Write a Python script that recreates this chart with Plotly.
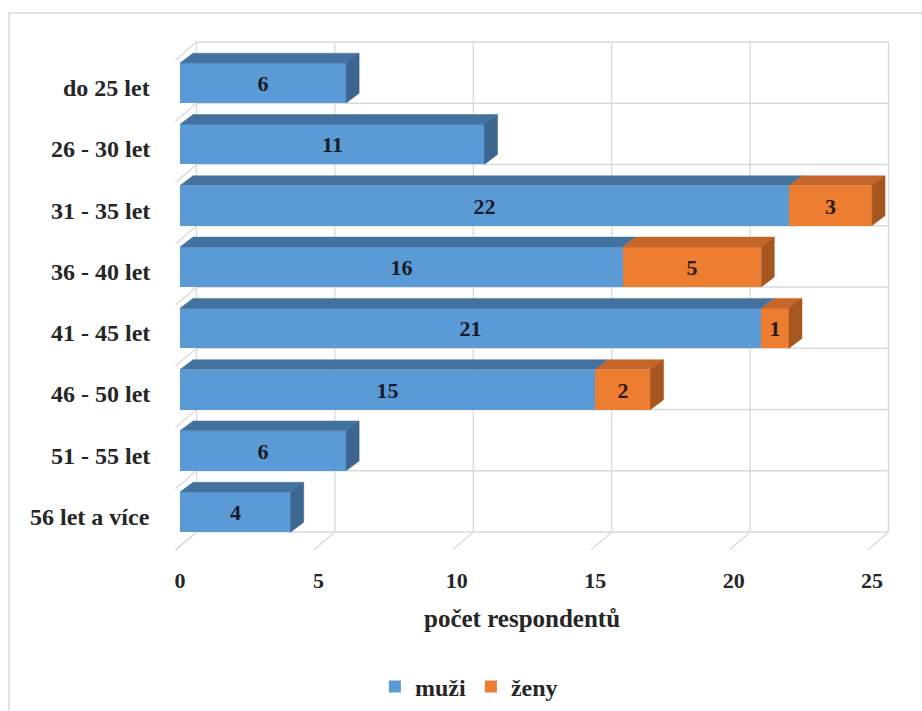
import plotly.graph_objects as go

# Age groups of respondents and counts per gender
categories = ["do 25 let", "26 - 30 let", "31 - 35 let", "36 - 40 let",
              "41 - 45 let", "46 - 50 let", "51 - 55 let", "56 let a více"]
muzi = [6, 11, 22, 16, 21, 15, 6, 4]
zeny = [0, 0, 3, 5, 1, 2, 0, 0]
x_ticks = [0, 5, 10, 15, 20, 25]

series_names = ["muži", "ženy"]
x_title = "počet respondentů"

# Colours: front face, top face, side face
BLUE = ("#5b9bd5", "#43729f", "#3a6690")
ORANGE = ("#ed7d31", "#c7662a", "#a8561f")

FONT = "Times New Roman"
TEXT = "#262626"

# Pseudo-3D geometry in axis units
BAR_W = 0.6525          # bar thickness (category units)
DX, DY = 0.47, 0.16     # bar depth offset (right, up)
BX = 0.596              # back wall shift to the right
YT, YB = -0.669, 7.325  # back wall top / bottom
FX, FY = 0.759, 0.294   # wall depth (left, down)
GRID = "#d9d9d9"

idx = list(range(len(categories)))
half = BAR_W / 2

fig = go.Figure()

# Front faces of the stacked bars
fig.add_trace(go.Bar(
    y=idx, x=muzi, orientation="h", width=BAR_W, name=series_names[0],
    marker=dict(color=BLUE[0], line=dict(width=0)),
    text=[str(v) if v else "" for v in muzi], textposition="inside",
    insidetextanchor="middle", textangle=0,
    textfont=dict(family=FONT, size=22, color="#1a1a2a", weight="bold"),
    hoverinfo="skip"))
fig.add_trace(go.Bar(
    y=idx, x=[v if v else None for v in zeny], orientation="h", width=BAR_W,
    name=series_names[1], base=muzi,
    marker=dict(color=ORANGE[0], line=dict(width=0)),
    text=[str(v) if v else "" for v in zeny], textposition="inside",
    insidetextanchor="middle", textangle=0,
    textfont=dict(family=FONT, size=22, color="#2a1a10", weight="bold"),
    hoverinfo="skip"))


def faces(starts, ends, show_side):
    """Top and side parallelograms for bar segments."""
    tx, ty, sx, sy = [], [], [], []
    for k, (a, b, side) in enumerate(zip(starts, ends, show_side)):
        if b <= a:
            continue
        top = k - half
        bot = k + half
        tx += [a, b, b + DX, a + DX, a, None]
        ty += [top, top, top - DY, top - DY, top, None]
        if side:
            sx += [b, b + DX, b + DX, b, b, None]
            sy += [top, top - DY, bot - DY, bot, top, None]
    return tx, ty, sx, sy


blue_end = muzi
orange_end = [m + z for m, z in zip(muzi, zeny)]

for starts, ends, sides, col in [
    ([0] * len(muzi), blue_end, [z == 0 for z in zeny], BLUE),
    (muzi, orange_end, [z > 0 for z in zeny], ORANGE),
]:
    tx, ty, sx, sy = faces(starts, ends, sides)
    fig.add_trace(go.Scatter(x=tx, y=ty, mode="lines", fill="toself",
                             fillcolor=col[1], line=dict(width=0.5, color=col[1]),
                             hoverinfo="skip", showlegend=False))
    if sx:
        fig.add_trace(go.Scatter(x=sx, y=sy, mode="lines", fill="toself",
                                 fillcolor=col[2], line=dict(width=0.5, color=col[2]),
                                 hoverinfo="skip", showlegend=False))

# Walls: back-wall grid, floor and left-wall edges
shapes = []
line = dict(color=GRID, width=1.3)
for v in x_ticks:
    shapes.append(dict(type="line", xref="x", yref="y", layer="below",
                       x0=v + BX, x1=v + BX, y0=YT, y1=YB, line=line))
    shapes.append(dict(type="line", xref="x", yref="y", layer="below",
                       x0=v + BX, x1=v + BX - FX, y0=YB, y1=YB + FY, line=line))
n = len(categories)
for j in range(n + 1):
    yj = YT + j * (YB - YT) / n
    shapes.append(dict(type="line", xref="x", yref="y", layer="below",
                       x0=BX, x1=x_ticks[-1] + BX, y0=yj, y1=yj, line=line))
    shapes.append(dict(type="line", xref="x", yref="y", layer="below",
                       x0=BX, x1=BX - FX, y0=yj, y1=yj + FY, line=line))

# Chart border
shapes.append(dict(type="rect", xref="paper", yref="paper", layer="below",
                   x0=-0.2008, x1=1.05, y0=-0.30, y1=1.0318,
                   line=dict(color="#d9d9d9", width=1.5)))

# Category labels (paper x, data y)
annotations = []
for k, c in enumerate(categories):
    annotations.append(dict(x=-0.0081, y=k + 0.08, xref="paper", yref="y", text=c,
                            showarrow=False, xanchor="right", yanchor="middle",
                            font=dict(family=FONT, size=24, color=TEXT,
                                      weight="bold")))
annotations.append(dict(x=0.4906, y=-0.1, xref="paper", yref="paper",
                        text=x_title, showarrow=False, xanchor="center",
                        yanchor="middle",
                        font=dict(family=FONT, size=25, color=TEXT,
                                  weight="bold")))

fig.update_layout(
    width=922, height=711,
    margin=dict(l=158, r=22, t=30, b=146, autoexpand=False),
    paper_bgcolor="white", plot_bgcolor="white",
    font=dict(family=FONT),
    barmode="overlay", bargap=0,
    showlegend=True,
    legend=dict(orientation="h", x=0.419, y=-0.228, xanchor="center",
                yanchor="middle",
                font=dict(family=FONT, size=24, color=TEXT, weight="bold"),
                itemclick=False, itemdoubleclick=False),
    shapes=shapes, annotations=annotations,
    xaxis=dict(range=[-0.795, 26.01], tickvals=x_ticks,
               ticktext=[str(t) for t in x_ticks], showgrid=False,
               zeroline=False, showline=False, ticks="",
               tickfont=dict(family=FONT, size=22, color=TEXT, weight="bold")),
    yaxis=dict(range=[7.863, -0.865], showticklabels=False, showgrid=False,
               zeroline=False, showline=False, ticks=""),
)

fig.write_html("out.html")
